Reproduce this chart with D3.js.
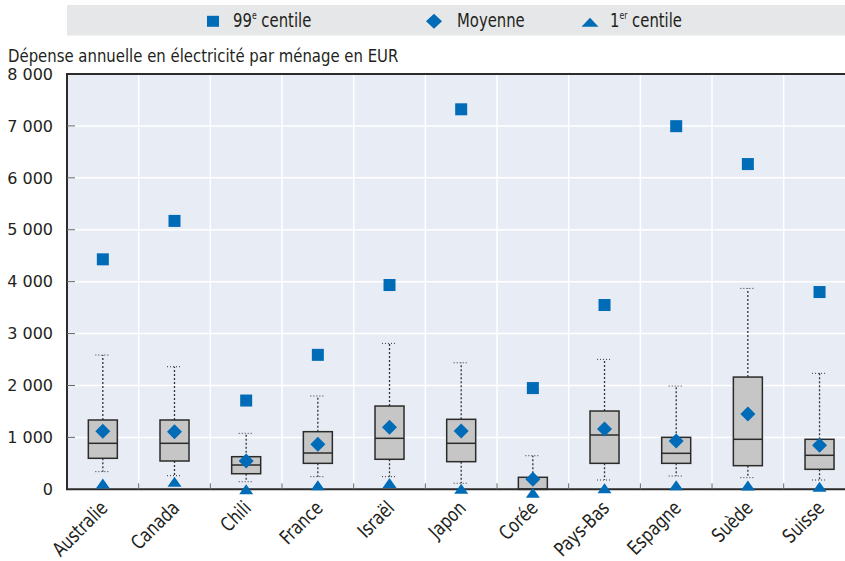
<!DOCTYPE html>
<html>
<head>
<meta charset="utf-8">
<script src="https://cdn.jsdelivr.net/npm/d3@7"></script>
<style>
  html, body { margin: 0; padding: 0; background: #fff; }
  svg { display: block; }
  text { font-family: "DejaVu Sans Condensed", "DejaVu Sans", sans-serif; fill: #231f20; }
  text.num { font-family: "DejaVu Sans", sans-serif; }
</style>
</head>
<body>
<svg id="chart" width="845" height="561"></svg>
<script>
// Annual household electricity spending (EUR), distribution by country
const categories = ["Australie", "Canada", "Chili", "France", "Israël", "Japon", "Corée", "Pays-Bas", "Espagne", "Suède", "Suisse"];
const p99 = [4430, 5170, 1710, 2590, 3935, 7320, 1950, 3550, 6995, 6265, 3800];
const meanValues = [1120, 1110, 545, 866, 1194, 1123, 195, 1161, 930, 1450, 847];
const p1 = [110, 145, 0, 80, 120, 10, -65, 20, 80, 75, 50];
const whiskerLow = [340, 262, 146, 243, 243, 116, 0, 179, 256, 224, 179];
const q1 = [597, 545, 300, 500, 578, 532, 0, 500, 500, 455, 385];
const medianValues = [886, 886, 468, 699, 982, 886, 0, 1046, 693, 963, 655];
const q3 = [1335, 1335, 628, 1110, 1604, 1348, 231, 1508, 1001, 2162, 963];
const whiskerHigh = [2586, 2361, 1078, 1797, 2811, 2438, 647, 2503, 1989, 3870, 2234];
const yTicks = [0, 1000, 2000, 3000, 4000, 5000, 6000, 7000, 8000];
const legendLabels = [["99", "e", " centile"], ["Moyenne"], ["1", "er", " centile"]];
const yTitle = "Dépense annuelle en électricité par ménage en EUR";

const BLUE = "#006bb6";
const svg = d3.select("#chart");

// condensed text: a taller font squeezed horizontally
function ctext(parent, x, y, size, sx, anchor, rot) {
  return parent.append("text")
    .attr("transform", `translate(${x},${y})${rot ? ` rotate(${rot})` : ""} scale(${sx},1)`)
    .attr("font-size", size).attr("text-anchor", anchor || "start");
}

const plotLeft = 67, plotTop = 74, plotBottom = 489.3, band = 71.67;
const plotRight = plotLeft + band * categories.length;
const x = d3.scaleBand().domain(categories).range([plotLeft, plotRight]).padding(0);
const y = d3.scaleLinear().domain([0, 8000]).range([plotBottom, plotTop]);
const cx = c => x(c) + x.bandwidth() / 2;

// plot background
svg.append("rect").attr("x", plotLeft).attr("y", plotTop).attr("width", plotRight - plotLeft).attr("height", plotBottom - plotTop)
  .attr("fill", "#e8ecf5");

// gridlines
svg.append("g").selectAll("line").data(yTicks.slice(1, -1)).join("line")
  .attr("x1", plotLeft).attr("x2", plotRight)
  .attr("y1", d => y(d)).attr("y2", d => y(d))
  .attr("stroke", "#fff").attr("stroke-width", 1.5);
svg.append("g").selectAll("line").data(categories.slice(1)).join("line")
  .attr("x1", d => x(d)).attr("x2", d => x(d))
  .attr("y1", plotTop).attr("y2", plotBottom)
  .attr("stroke", "#fff").attr("stroke-width", 1.5);

// legend
const lg = svg.append("g");
lg.append("rect").attr("x", plotLeft).attr("y", 5).attr("width", 845 - plotLeft).attr("height", 30.5).attr("fill", "#e6e7e8");
const legendY = 21.3;
const legendX = [213, 434, 590];
lg.append("rect").attr("x", legendX[0] - 6).attr("y", legendY - 5.5).attr("width", 12).attr("height", 11).attr("fill", BLUE);
lg.append("path").attr("d", `M${legendX[1]},${legendY - 7.5}L${legendX[1] + 8},${legendY}L${legendX[1]},${legendY + 7.5}L${legendX[1] - 8},${legendY}Z`).attr("fill", BLUE);
lg.append("path").attr("d", `M${legendX[2]},${legendY - 3.5}L${legendX[2] + 8.5},${legendY + 5.5}L${legendX[2] - 8.5},${legendY + 5.5}Z`).attr("fill", BLUE);
const legendTextX = [233, 457, 610];
legendLabels.forEach((parts, i) => {
  const t = ctext(lg, legendTextX[i], 27.3, 19.2, 0.86);
  t.append("tspan").text(parts[0]);
  if (parts.length > 1) {
    t.append("tspan").attr("font-size", 10).attr("dy", -8).text(parts[1]);
    t.append("tspan").attr("dy", 8).text(parts[2]);
  }
});

// title
ctext(svg, 8, 61.7, 18.4, 0.9).text(yTitle);

// y tick labels
svg.append("g").selectAll("text").data(yTicks).join("text")
  .attr("class", "num")
  .attr("x", 53).attr("y", d => y(d)).attr("dy", "0.36em")
  .attr("text-anchor", "end").attr("font-size", 16)
  .text(d => d3.format(",")(d).replace(/,/g, " "));

// boxes and whiskers
const boxW = 29, capW = 15;
const g = svg.append("g");
categories.forEach((c, i) => {
  const xc = cx(c);
  g.append("line").attr("x1", xc).attr("x2", xc).attr("y1", y(q3[i])).attr("y2", y(whiskerHigh[i]))
    .attr("stroke", "#333").attr("stroke-width", 1.3).attr("stroke-dasharray", "2,2");
  g.append("line").attr("x1", xc).attr("x2", xc).attr("y1", y(q1[i])).attr("y2", y(whiskerLow[i]))
    .attr("stroke", "#333").attr("stroke-width", 1.3).attr("stroke-dasharray", "2,2");
  [whiskerHigh[i], whiskerLow[i]].forEach(v => {
    g.append("line").attr("x1", xc - capW / 2).attr("x2", xc + capW / 2).attr("y1", y(v)).attr("y2", y(v))
      .attr("stroke", "#333").attr("stroke-width", 1).attr("stroke-dasharray", "1,2");
  });
  g.append("rect").attr("x", xc - boxW / 2).attr("y", y(q3[i])).attr("width", boxW).attr("height", y(q1[i]) - y(q3[i]))
    .attr("fill", "#c6c6c6").attr("stroke", "#2b2b2b").attr("stroke-width", 1.5);
  g.append("line").attr("x1", xc - boxW / 2).attr("x2", xc + boxW / 2).attr("y1", y(medianValues[i])).attr("y2", y(medianValues[i]))
    .attr("stroke", "#2b2b2b").attr("stroke-width", 1.5);
});

// frame (top, left, bottom)
svg.append("path").attr("d", `M${plotRight},${plotTop}H${plotLeft}V${plotBottom}H${plotRight}`)
  .attr("fill", "none").attr("stroke", "#2b2b2b").attr("stroke-width", 2);
// tick marks
svg.append("g").selectAll("line").data(yTicks.slice(1, -1)).join("line")
  .attr("x1", plotLeft).attr("x2", plotLeft + 8).attr("y1", d => y(d)).attr("y2", d => y(d))
  .attr("stroke", "#666").attr("stroke-width", 1);
svg.append("g").selectAll("line").data(categories.slice(1)).join("line")
  .attr("x1", d => x(d)).attr("x2", d => x(d)).attr("y1", plotBottom).attr("y2", plotBottom - 6)
  .attr("stroke", "#666").attr("stroke-width", 1);

// markers
const m = svg.append("g");
m.selectAll("rect").data(categories).join("rect")
  .attr("x", d => cx(d) - 6).attr("y", (d, i) => y(p99[i]) - 6).attr("width", 12).attr("height", 12).attr("fill", BLUE);
m.selectAll("path.mean").data(categories).join("path").attr("class", "mean")
  .attr("transform", (d, i) => `translate(${cx(d)},${y(meanValues[i])})`)
  .attr("d", "M0,-7.5L7.5,0L0,7.5L-7.5,0Z").attr("fill", BLUE);
m.selectAll("path.p1").data(categories).join("path").attr("class", "p1")
  .attr("transform", (d, i) => `translate(${cx(d)},${y(p1[i])})`)
  .attr("d", "M0,-5L7,5L-7,5Z").attr("fill", BLUE);

// category labels
const xl = svg.append("g");
categories.forEach(c => {
  ctext(xl, cx(c) + 6, plotBottom + 20, 19.5, 0.88, "end", -45).text(c);
});
</script>
</body>
</html>
